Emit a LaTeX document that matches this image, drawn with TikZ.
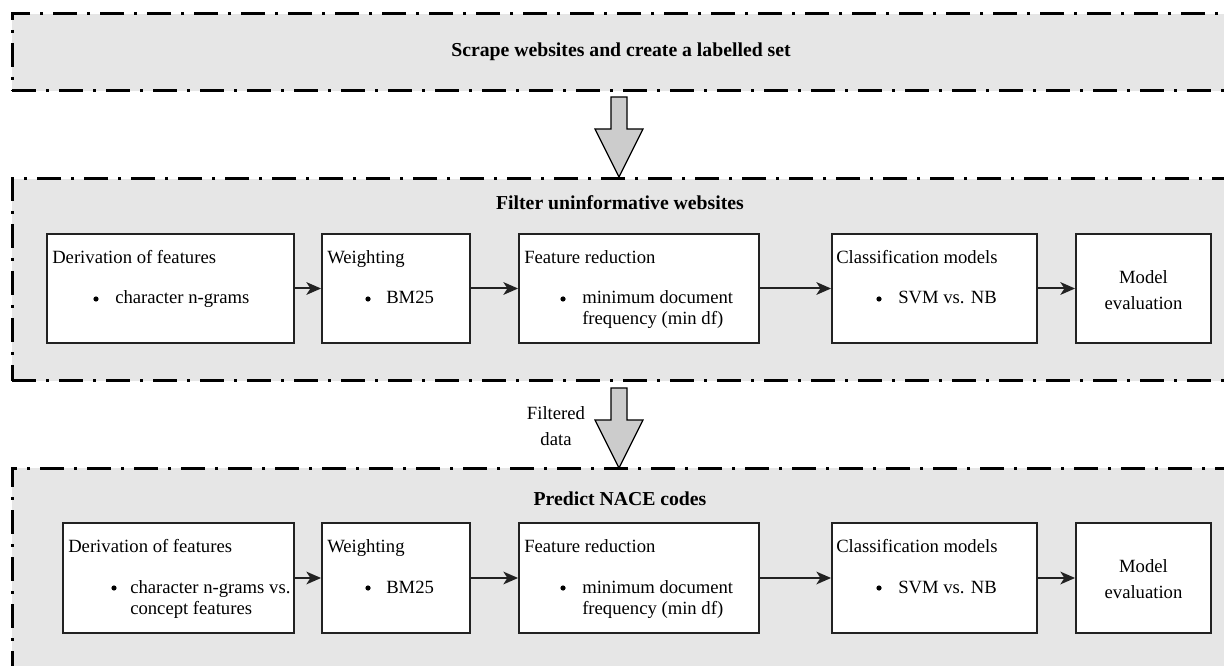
\documentclass[tikz,border=0pt]{standalone}
\usepackage{fontspec}
\setmainfont{Liberation Serif}
\usetikzlibrary{fit,arrows.meta}
\definecolor{bandgray}{HTML}{E6E6E6}
\definecolor{blockgray}{HTML}{CCCCCC}
\definecolor{boxline}{HTML}{222222}
\begin{document}
\begin{tikzpicture}[x=0.75pt,y=-0.75pt,
  band/.style={draw=black, fill=bandgray, line width=2.25pt,
    dash pattern=on 18pt off 7.5pt on 2.25pt off 7.5pt, inner sep=0pt},
  box/.style={draw=boxline, fill=white, line width=1.4pt, inner sep=0pt},
  txt/.style={font=\fontsize{14}{16}\selectfont, inner sep=0pt},
  ttl/.style={font=\fontsize{14.8}{17}\selectfont\bfseries, inner sep=0pt},
  dot/.style={circle, fill=black, inner sep=0pt, minimum size=3.9pt},
  conn/.style={-{Stealth[length=11pt,width=9.5pt,inset=3pt]}, line width=1.5pt, draw=boxline},
  blockarrow/.style={draw=black, fill=blockgray, line width=0.9pt, line join=miter}
]
\useasboundingbox (0,0) rectangle (1224,666);
\clip (0,0) rectangle (1224,666);

% bands
\coordinate (b1nw) at (12,14);   \coordinate (b1se) at (1228,91);
\coordinate (b2nw) at (12,179);  \coordinate (b2se) at (1228,381);
\coordinate (b3nw) at (12,468);  \coordinate (b3se) at (1228,720);
\node[band, fit=(b1nw)(b1se)] (band1) {};
\node[band, fit=(b2nw)(b2se)] (band2) {};
\node[band, fit=(b3nw)(b3se)] (band3) {};

\node[ttl] (t1) at (621,52) {Scrape websites and create a labelled set};
\node[ttl] (t2) at (620,203) {Filter uninformative websites};
\node[ttl] (t3) at (620,499) {Predict NACE codes};

% block arrows
\draw[blockarrow] (611,97) -- (627,97) -- (627,129) -- (643,129) -- (619,177) -- (595,129) -- (611,129) -- cycle;
\draw[blockarrow] (611,388) -- (627,388) -- (627,420) -- (643,420) -- (619,468) -- (595,420) -- (611,420) -- cycle;
\node[txt, align=center] (fd) at (556,426) {Filtered\\[4pt]data};

% ---- middle band boxes
\coordinate (m1a) at (47,234);  \coordinate (m1b) at (294,343);
\coordinate (m2a) at (322,234); \coordinate (m2b) at (470,343);
\coordinate (m3a) at (519,234); \coordinate (m3b) at (759,343);
\coordinate (m4a) at (832,234); \coordinate (m4b) at (1037,343);
\coordinate (m5a) at (1076,234);\coordinate (m5b) at (1211,343);
\node[box, fit=(m1a)(m1b)] (m1) {};
\node[box, fit=(m2a)(m2b)] (m2) {};
\node[box, fit=(m3a)(m3b)] (m3) {};
\node[box, fit=(m4a)(m4b)] (m4) {};
\node[box, fit=(m5a)(m5b)] (m5) {};

\node[txt, anchor=base west] (m1t) at (52,264) {Derivation of features};
\node[dot] (m1d) at (96,299) {};
\node[txt, anchor=base west] (m1i) at (115,304) {character n-grams};

\node[txt, anchor=base west] (m2t) at (327,264) {Weighting};
\node[dot] (m2d) at (368,299) {};
\node[txt, anchor=base west] (m2i) at (386,304) {BM25};

\node[txt, anchor=base west] (m3t) at (524,264) {Feature reduction};
\node[dot] (m3d) at (563,299) {};
\node[txt, anchor=base west] (m3i) at (582,304) {minimum document};
\node[txt, anchor=base west] (m3j) at (582,325) {frequency (min df)};

\node[txt, anchor=base west] (m4t) at (836,264) {Classification models};
\node[dot] (m4d) at (879,299) {};
\node[txt, anchor=base west] (m4i) at (898,304) {SVM vs. NB};

\node[txt, align=center] (m5t) at (1143.5,290) {Model\\[3pt]evaluation};

\draw[conn] (m1) -- (m2);
\draw[conn] (m2) -- (m3);
\draw[conn] (m3) -- (m4);
\draw[conn] (m4) -- (m5);

% ---- bottom band boxes
\coordinate (p1a) at (63,523);  \coordinate (p1b) at (294,633);
\coordinate (p2a) at (322,523); \coordinate (p2b) at (470,633);
\coordinate (p3a) at (519,523); \coordinate (p3b) at (759,633);
\coordinate (p4a) at (832,523); \coordinate (p4b) at (1037,633);
\coordinate (p5a) at (1076,523);\coordinate (p5b) at (1211,633);
\node[box, fit=(p1a)(p1b)] (p1) {};
\node[box, fit=(p2a)(p2b)] (p2) {};
\node[box, fit=(p3a)(p3b)] (p3) {};
\node[box, fit=(p4a)(p4b)] (p4) {};
\node[box, fit=(p5a)(p5b)] (p5) {};

\node[txt, anchor=base west] (p1t) at (68,552) {Derivation of features};
\node[dot] (p1d) at (114,588) {};
\node[txt, anchor=base west] (p1i) at (130,593) {character n-grams vs.};
\node[txt, anchor=base west] (p1j) at (130,614) {concept features};

\node[txt, anchor=base west] (p2t) at (327,552) {Weighting};
\node[dot] (p2d) at (368,588) {};
\node[txt, anchor=base west] (p2i) at (386,593) {BM25};

\node[txt, anchor=base west] (p3t) at (524,552) {Feature reduction};
\node[dot] (p3d) at (563,588) {};
\node[txt, anchor=base west] (p3i) at (582,593) {minimum document};
\node[txt, anchor=base west] (p3j) at (582,614) {frequency (min df)};

\node[txt, anchor=base west] (p4t) at (836,552) {Classification models};
\node[dot] (p4d) at (879,588) {};
\node[txt, anchor=base west] (p4i) at (898,593) {SVM vs. NB};

\node[txt, align=center] (p5t) at (1143.5,579) {Model\\[3pt]evaluation};

\draw[conn] (p1) -- (p2);
\draw[conn] (p2) -- (p3);
\draw[conn] (p3) -- (p4);
\draw[conn] (p4) -- (p5);
\end{tikzpicture}
\end{document}
